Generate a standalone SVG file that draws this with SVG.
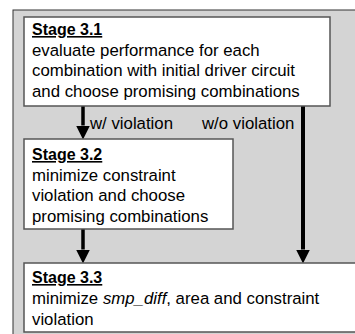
<svg xmlns="http://www.w3.org/2000/svg" width="355" height="334" viewBox="0 0 355 334">
<defs>
<marker id="ah" viewBox="0 0 14 14" refX="0" refY="7" markerWidth="14" markerHeight="14" markerUnits="userSpaceOnUse" orient="auto">
<path d="M0,0 L14,7 L0,14 z" fill="#000"/>
</marker>
<style>
.box{fill:#fff;stroke:#555;stroke-width:1.5}
text{font-family:"Liberation Sans",Arial,sans-serif;font-size:16.8px;fill:#000}
.t{font-weight:bold;text-decoration:underline;font-size:16px}
.arr{stroke:#000;fill:none}
</style>
</defs>
<rect x="13" y="10" width="360" height="340" fill="#d4d4d4" stroke="#333" stroke-width="1"/>
<g id="connectors">
<line class="arr" x1="83" y1="106" x2="83" y2="125.5" stroke-width="3.5" marker-end="url(#ah)"/>
<line class="arr" x1="83" y1="229" x2="83" y2="249.5" stroke-width="3.5" marker-end="url(#ah)"/>
<line class="arr" x1="303" y1="106" x2="303" y2="249.5" stroke-width="4" marker-end="url(#ah)"/>
<text x="90" y="129">w/ violation</text>
<text x="202" y="129">w/o violation</text>
</g>
<g id="stage31">
<rect class="box" x="24" y="17" width="306" height="89"/>
<text class="t" x="32" y="35">Stage 3.1</text>
<text x="32" y="55.5">evaluate performance for each</text>
<text x="32" y="76">combination with initial driver circuit</text>
<text x="32" y="96.5">and choose promising combinations</text>
</g>
<g id="stage32">
<rect class="box" x="24" y="139" width="209" height="90"/>
<text class="t" x="32" y="160">Stage 3.2</text>
<text x="32" y="180.5">minimize constraint</text>
<text x="32" y="201">violation and choose</text>
<text x="32" y="221.5">promising combinations</text>
</g>
<g id="stage33">
<rect class="box" x="24" y="263" width="340" height="69"/>
<text class="t" x="32" y="283">Stage 3.3</text>
<text x="32" y="304">minimize <tspan font-style="italic">smp_diff</tspan>, area and constraint</text>
<text x="32" y="324.5">violation</text>
</g>
</svg>
